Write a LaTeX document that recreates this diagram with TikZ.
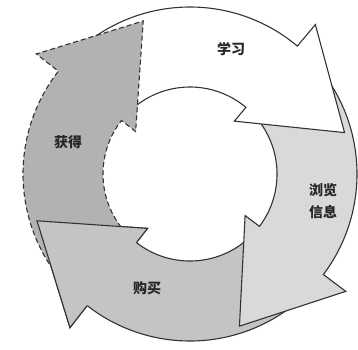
\documentclass[tikz,border=0pt]{standalone}
\usepackage{fontspec}
\newfontfamily\cjk{Noto Sans CJK SC}
\begin{document}
\begin{tikzpicture}[x=1pt,y=1pt,
  outline/.style={draw=black!80, line width=1.1pt, line join=miter},
  dashedline/.style={dash pattern=on 5pt off 3pt},
  lbl/.style={font=\cjk\bfseries\fontsize{14}{22}\selectfont, text=black!85, align=center, inner sep=0pt}]
\useasboundingbox (0,0) rectangle (358,-349);
\fill[white] (0,0) rectangle (358,-349);
\tikzset{
  cycarrow/.pic={
    \path[pic actions]
      (\sa:87pt) -- (\sa:167pt) arc[start angle=\sa, end angle=\ba, radius=167pt]
      -- (\ba:195pt) -- (\ba-35:160pt) -- (\ba:69pt) -- (\ba:87pt)
      arc[start angle=\ba, end angle=\sa, radius=87pt] -- cycle;
  }
}
\begin{scope}[shift={(190,-174)}]
  % 购买
  \def\sa{-51}\def\ba{-128}
  \pic[fill=black!23, outline] {cycarrow};
  % 浏览信息
  \def\sa{36}\def\ba{-37}
  \pic[fill=black!15, outline] {cycarrow};
  % 学习
  \def\sa{128}\def\ba{50}
  \pic[fill=white, outline] {cycarrow};
  % 获得
  \def\sa{218}\def\ba{142}
  \pic[fill=black!30, outline, dashedline] {cycarrow};
  % 购买 head on top
  \fill[black!23] (-128:87pt) -- (-128:195pt) -- (-163:160pt) -- (-128:69pt) -- cycle;
  \draw[outline]
    (-128:167pt) -- (-128:195pt) -- (-163:160pt) -- (-128:69pt) -- (-128:87pt);
\end{scope}
\node[lbl] (learn) at (231,-49) {学习};
\node[lbl] (browse) at (323,-201) {浏览\\信息};
\node[lbl] (buy) at (147,-288) {购买};
\node[lbl] (get) at (68,-142) {获得};
\end{tikzpicture}
\end{document}
